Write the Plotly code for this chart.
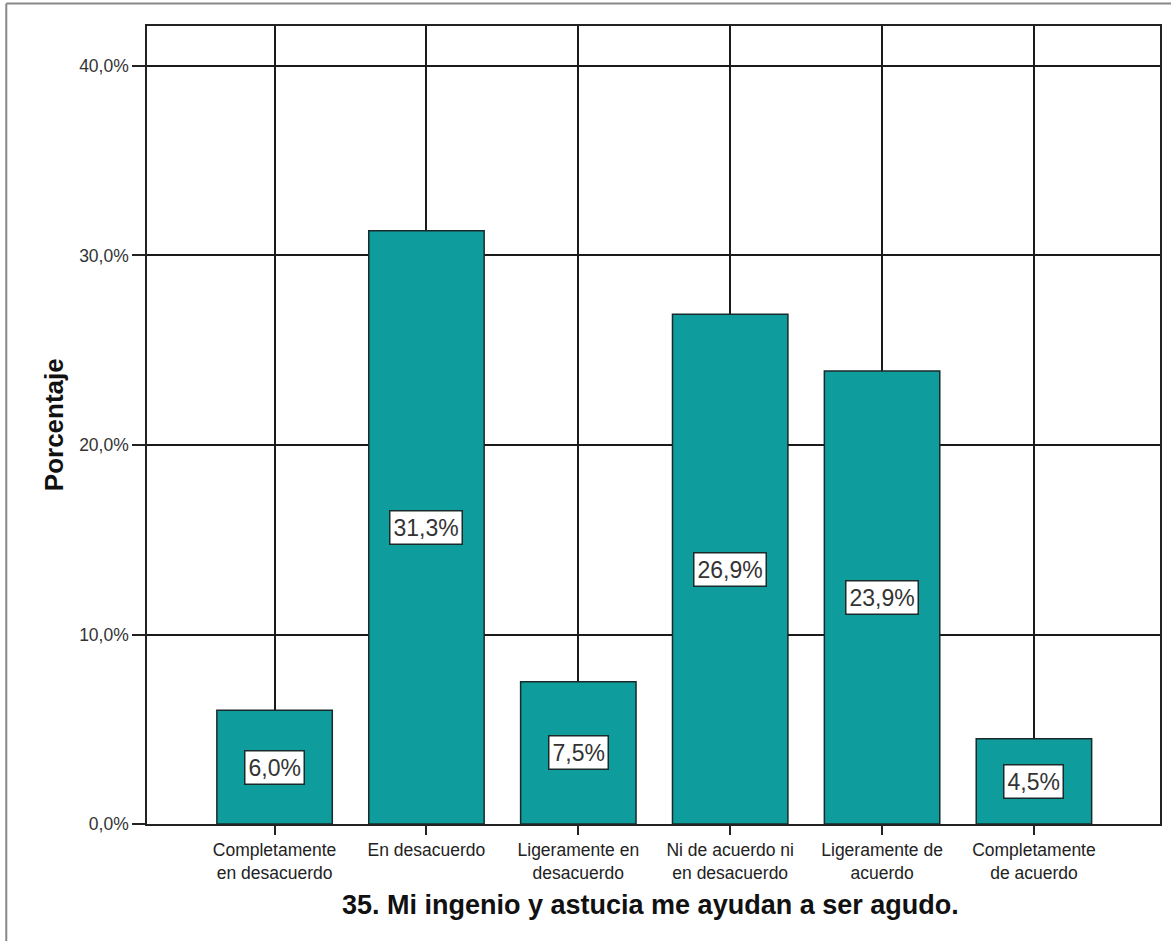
import plotly.graph_objects as go

categories = ["Completamente<br>en desacuerdo", "En desacuerdo", "Ligeramente en<br>desacuerdo",
              "Ni de acuerdo ni<br>en desacuerdo", "Ligeramente de<br>acuerdo", "Completamente<br>de acuerdo"]
values = [6.0, 31.3, 7.5, 26.9, 23.9, 4.5]
value_labels = ["6,0%", "31,3%", "7,5%", "26,9%", "23,9%", "4,5%"]
y_ticks = [0, 10, 20, 30, 40]
y_tick_labels = ["0,0%", "10,0%", "20,0%", "30,0%", "40,0%"]
x_title = "35. Mi ingenio y astucia me ayudan a ser agudo."
y_title = "Porcentaje"

W, H = 1173, 941
L, R, T, B = 147, 11, 26, 117
pw, ph = W - L - R, H - T - B
FONT = "Liberation Sans, Arial, sans-serif"

xs = list(range(len(categories)))
fig = go.Figure()
fig.add_trace(go.Bar(
    x=xs, y=values, width=0.76,
    marker=dict(color="#0e9c9c", line=dict(color="#1a2a2a", width=1.5)),
    hoverinfo="skip",
))

for i, (v, lab) in enumerate(zip(values, value_labels)):
    fig.add_annotation(x=i, y=v / 2, text=lab, showarrow=False,
                       font=dict(family=FONT, size=23, color="#333"),
                       bgcolor="white", bordercolor="#1a2a2a", borderwidth=1.5, borderpad=3)

# axis titles
fig.add_annotation(xref="paper", yref="paper", x=0.497, y=-(905 - (T + ph)) / ph,
                   xanchor="center", yanchor="middle", showarrow=False,
                   text="<b>" + x_title + "</b>", font=dict(family=FONT, size=27, color="#111"))
fig.add_annotation(xref="paper", yref="paper", x=(54 - L) / pw, y=0.5,
                   xanchor="center", yanchor="middle", showarrow=False, textangle=-90,
                   text="<b>" + y_title + "</b>", font=dict(family=FONT, size=26, color="#111"))

fig.update_layout(
    width=W, height=H,
    margin=dict(l=L, r=R, t=T, b=B),
    paper_bgcolor="white", plot_bgcolor="white",
    showlegend=False,
    font=dict(family=FONT, color="#333"),
    xaxis=dict(
        range=[-0.84, 5.83], tickmode="array", tickvals=xs, ticktext=categories,
        showgrid=True, gridcolor="#1a1a1a", gridwidth=1.5,
        ticks="outside", ticklen=9, tickwidth=1.5, tickcolor="#222",
        showline=True, linecolor="#222", linewidth=1.5, mirror=True,
        tickfont=dict(size=17.5, color="#222"),
        zeroline=False,
    ),
    yaxis=dict(
        range=[0, 42.11], tickmode="array", tickvals=y_ticks, ticktext=y_tick_labels,
        showgrid=True, gridcolor="#1a1a1a", gridwidth=1.5,
        ticks="outside", ticklen=13, tickwidth=1.5, tickcolor="#222",
        showline=True, linecolor="#222", linewidth=1.5, mirror=True,
        tickfont=dict(size=17.5, color="#333"),
        zeroline=False,
    ),
)

# outer frame lines (left and top) of the original image
x_left = (6 - L) / pw
y_top = 1 + (T - 3.5) / ph
y_bot = -(B) / ph
x_right = 1 + R / pw
fig.add_shape(type="line", xref="paper", yref="paper", x0=x_left, x1=x_left, y0=y_bot, y1=y_top,
              line=dict(color="#888", width=2))
fig.add_shape(type="line", xref="paper", yref="paper", x0=x_left, x1=x_right, y0=y_top, y1=y_top,
              line=dict(color="#888", width=2))

fig.write_html("out.html", config={"displayModeBar": False},
               post_script="document.body.style.margin='0px';document.body.style.padding='0px';")
